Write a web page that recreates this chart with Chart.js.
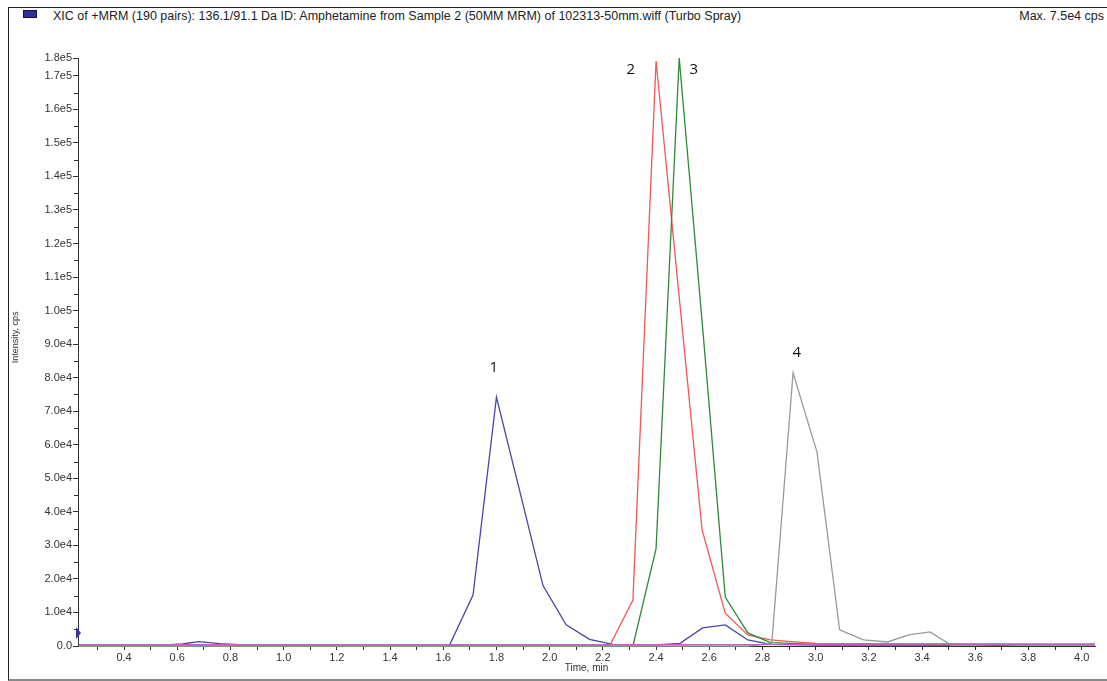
<!DOCTYPE html>
<html>
<head>
<meta charset="utf-8">
<script src="https://cdn.jsdelivr.net/npm/chart.js@4.4.1/dist/chart.umd.min.js"></script>
<style>
  body { margin: 0; background: #fff; }
  .frame {
    position: absolute; left: 8px; top: 7px; width: 1099px; height: 671px;
    border-top: 1px solid #222; border-left: 1px solid #222; border-bottom: 2px solid #888;
  }
  .header {
    position: absolute; top: 9px; font: 12.5px 'Liberation Sans', Arial, sans-serif; color: #222;
  }
  .swatch {
    position: absolute; left: 23px; top: 10px; width: 12px; height: 6px;
    background: #2e2ea0; border: 1px solid #111150;
  }
  canvas { position: absolute; left: 0; top: 0; }
</style>
</head>
<body>
<div class="frame"></div>
<div class="swatch"></div>
<div class="header" style="left:53px">XIC of +MRM (190 pairs): 136.1/91.1 Da ID: Amphetamine from Sample 2 (50MM MRM) of 102313-50mm.wiff (Turbo Spray)</div>
<div class="header" style="right:3px">Max. 7.5e4 cps</div>
<canvas id="chart" width="1107" height="681"></canvas>
<script>
const fontFamily = "'Liberation Sans', Arial, sans-serif";

// peak 1 (amphetamine trace, blue)
const blueTime = [0.23, 0.55, 0.62, 0.68, 0.76, 0.85, 1.20, 1.55, 1.625, 1.712, 1.80, 1.888, 1.975, 2.062, 2.15, 2.237, 2.40, 2.49, 2.575, 2.66, 2.745, 2.83, 3.00, 4.05];
const blueVals = [300, 300, 600, 1300, 700, 300, 300, 400, 500, 15200, 74200, 46000, 18000, 6300, 2000, 500, 300, 800, 5400, 6300, 1800, 500, 300, 300];

// peak 2 (red)
const redTime = [0.23, 2.135, 2.225, 2.313, 2.40, 2.487, 2.573, 2.66, 2.745, 2.83, 2.92, 3.00, 4.05];
const redVals = [0, 0, 0, 13700, 174400, 104000, 34600, 9800, 3300, 1800, 1200, 800, 300];

// peak 3 (green)
const greenTime = [0.23, 2.22, 2.313, 2.40, 2.487, 2.575, 2.66, 2.745, 2.83, 3.00, 4.05];
const greenVals = [0, 0, 0, 29000, 175300, 95000, 14600, 3900, 1000, 500, 200];

// peak 4 (grey)
const greyTime = [0.23, 2.745, 2.835, 2.915, 3.005, 3.09, 3.18, 3.27, 3.35, 3.43, 3.51, 3.60, 3.68, 3.76, 4.05];
const greyVals = [0, 0, 800, 81400, 57800, 4800, 1800, 1200, 3300, 4200, 200, 200, 600, 200, 200];

// baseline trace (magenta)
const pinkTime = [0.23, 1.60, 2.80, 3.50, 4.05];
const pinkVals = [400, 400, 400, 600, 600];

const xTicks = [0.3, 0.4, 0.5, 0.6, 0.7, 0.8, 0.9, 1.0, 1.1, 1.2, 1.3, 1.4, 1.5, 1.6, 1.7, 1.8, 1.9, 2.0, 2.1, 2.2, 2.3, 2.4, 2.5, 2.6, 2.7, 2.8, 2.9, 3.0, 3.1, 3.2, 3.3, 3.4, 3.5, 3.6, 3.7, 3.8, 3.9, 4.0];
const yTicks = [0, 10000, 20000, 30000, 40000, 50000, 60000, 70000, 80000, 90000, 100000, 110000, 120000, 130000, 140000, 150000, 160000, 170000, 175300];
const yMinorTicks = [5000, 15000, 25000, 35000, 45000, 55000, 65000, 75000, 85000, 95000, 105000, 115000, 125000, 135000, 145000, 155000, 165000];

const peakLabels = ['1', '2', '3', '4'];
const peakLabelTime = [1.79, 2.305, 2.542, 2.929];
const peakLabelVals = [82900, 171700, 171700, 87300];

const xMin = 0.227, xMax = 4.05, yMax = 175300;

const toPoints = (t, v) => t.map((x, i) => ({ x, y: v[i] }));

const fmtIntensity = v => {
  if (v === 0) return '0.0';
  const e = Math.floor(Math.log10(v));
  return (v / Math.pow(10, e)).toFixed(1) + 'e' + e;
};

const line = (label, t, v, color) => ({
  label,
  data: toPoints(t, v),
  borderColor: color,
  borderWidth: 1.3,
  pointRadius: 0,
  tension: 0,
  fill: false,
});

const extras = {
  id: 'extras',
  afterDraw(chart) {
    const { ctx, scales: { x, y } } = chart;
    ctx.save();
    // minor y ticks
    ctx.strokeStyle = '#333';
    ctx.lineWidth = 1;
    yMinorTicks.forEach(v => {
      const py = Math.round(y.getPixelForValue(v)) + 0.5;
      ctx.beginPath();
      ctx.moveTo(x.left - 4, py);
      ctx.lineTo(x.left, py);
      ctx.stroke();
    });
    // threshold marker on the y axis
    const my = y.getPixelForValue(3900);
    ctx.fillStyle = '#3535a8';
    ctx.beginPath();
    ctx.moveTo(x.left - 2, my - 6);
    ctx.lineTo(x.left + 3, my);
    ctx.lineTo(x.left - 2, my + 6);
    ctx.closePath();
    ctx.fill();
    // y axis title, placed a little above the axis centre like the original
    ctx.fillStyle = '#333';
    ctx.font = '9px ' + fontFamily;
    ctx.textAlign = 'center';
    ctx.textBaseline = 'middle';
    ctx.translate(16, y.getPixelForValue(92000));
    ctx.rotate(-Math.PI / 2);
    ctx.fillText('Intensity, cps', 0, 0);
    ctx.setTransform(1, 0, 0, 1, 0, 0);
    // peak numbers
    ctx.fillStyle = '#111';
    ctx.font = "15px 'Open Sans', sans-serif";
    peakLabels.forEach((s, i) => {
      ctx.fillText(s, x.getPixelForValue(peakLabelTime[i]), y.getPixelForValue(peakLabelVals[i]));
    });
    ctx.restore();
  }
};

new Chart(document.getElementById('chart'), {
  type: 'line',
  data: {
    datasets: [
      line('baseline', pinkTime, pinkVals, '#c060c8'),
      line('4', greyTime, greyVals, '#9a9a9a'),
      line('3', greenTime, greenVals, '#2f8a3a'),
      line('2', redTime, redVals, '#f05858'),
      line('1', blueTime, blueVals, '#4646ac'),
    ]
  },
  options: {
    responsive: false,
    devicePixelRatio: 1,
    animation: false,
    layout: { padding: { left: 0, top: 58, right: 12, bottom: 0 } },
    plugins: { legend: { display: false }, tooltip: { enabled: false } },
    elements: { line: { borderJoinStyle: 'miter' } },
    clip: false,
    scales: {
      x: {
        type: 'linear',
        min: xMin,
        max: xMax,
        afterBuildTicks: s => { s.ticks = xTicks.map(value => ({ value })); },
        afterFit: s => { s.height = 35; },
        border: { color: '#333', width: 1 },
        grid: { drawOnChartArea: false, drawTicks: true, tickLength: 4, color: '#333' },
        ticks: {
          autoSkip: false,
          maxRotation: 0,
          padding: 1,
          color: '#333',
          font: { family: fontFamily, size: 11 },
          callback: v => (Math.round(v * 10) % 2 === 0 ? v.toFixed(1) : ''),
        },
        title: {
          display: true,
          text: 'Time, min',
          color: '#333',
          font: { family: fontFamily, size: 10 },
          padding: { top: 0, bottom: 7 },
        },
      },
      y: {
        type: 'linear',
        min: 0,
        max: yMax,
        afterBuildTicks: s => { s.ticks = yTicks.map(value => ({ value })); },
        afterFit: s => { s.width = 78; },
        border: { color: '#333', width: 1 },
        grid: { drawOnChartArea: false, drawTicks: true, tickLength: 5, color: '#333' },
        ticks: {
          autoSkip: false,
          padding: 1,
          color: '#333',
          font: { family: fontFamily, size: 11 },
          callback: v => fmtIntensity(v),
        },
      },
    },
  },
  plugins: [extras],
});
</script>
</body>
</html>
